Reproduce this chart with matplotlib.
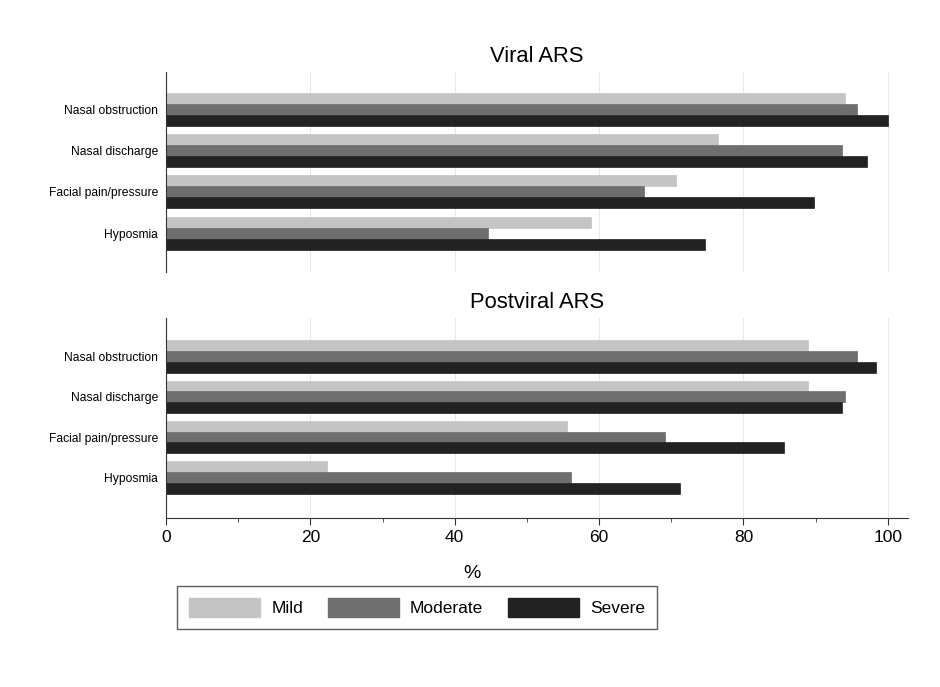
import matplotlib.pyplot as plt
import numpy as np
from matplotlib.patches import Patch

plt.rcParams['font.family'] = ['Liberation Sans', 'DejaVu Sans']

symptoms = ["Nasal obstruction", "Nasal discharge", "Facial pain/pressure", "Hyposmia"]
severities = ["Mild", "Moderate", "Severe"]
colors = ["#c4c4c4", "#6e6e6e", "#222222"]

viral_mild = [94.1, 76.5, 70.6, 58.9]
viral_moderate = [95.7, 93.7, 66.2, 44.6]
viral_severe = [100.0, 97.1, 89.8, 74.7]

postviral_mild = [89.0, 89.0, 55.6, 22.3]
postviral_moderate = [95.7, 94.0, 69.1, 56.1]
postviral_severe = [98.3, 93.6, 85.6, 71.2]

fig = plt.figure(figsize=(9.4, 6.87), dpi=100)
ax1 = fig.add_axes([0.1766, 0.604, 0.7894, 0.2912])
ax2 = fig.add_axes([0.1766, 0.2464, 0.7894, 0.2906])

y = np.arange(len(symptoms))
h = 0.267


def draw(ax, series, title, ylim):
    for i, vals in enumerate(series):
        ax.barh(y + (i - 1) * h, vals, height=h, color=colors[i],
                edgecolor=colors[i], linewidth=0.5, zorder=2)
    ax.set_yticks(y)
    ax.set_yticklabels(symptoms, fontsize=8.7)
    ax.tick_params(axis='y', length=0, pad=5.5)
    ax.set_ylim(*ylim)
    ax.set_xlim(0, 102.8)
    ax.set_xticks([0, 20, 40, 60, 80, 100])
    ax.set_xticks([10, 30, 50, 70, 90], minor=True)
    ax.grid(axis='x', color='#e8e8e8', linewidth=0.8, zorder=0)
    for s in ['top', 'right']:
        ax.spines[s].set_visible(False)
    ax.spines['left'].set_color('#333333')
    ax.spines['bottom'].set_color('#333333')
    ax.set_title(title, fontsize=15.8, pad=7)


draw(ax1, [viral_mild, viral_moderate, viral_severe], "Viral ARS", (3.94, -0.9))
draw(ax2, [postviral_mild, postviral_moderate, postviral_severe], "Postviral ARS", (4.0, -0.95))

ax1.spines['bottom'].set_visible(False)
ax1.tick_params(axis='x', which='both', length=0, labelbottom=False)

ax2.tick_params(axis='x', which='major', length=5, labelsize=12.5, pad=4, color='#333333')
ax2.tick_params(axis='x', which='minor', length=3, color='#333333')
ax2.set_xlabel("%", fontsize=14)
ax2.xaxis.set_label_coords(0.412, -0.235)

handles = [Patch(facecolor=c, edgecolor=c, label=l) for c, l in zip(colors, severities)]
fig.legend(handles=handles, loc='center', bbox_to_anchor=(0.4436, 0.1157), ncol=3,
           fontsize=12.5, frameon=True, fancybox=False, edgecolor='#333333',
           handlelength=4.1, handleheight=1.35, columnspacing=1.4, handletextpad=0.65,
           borderpad=0.7)

plt.savefig("out.png", dpi=100)
